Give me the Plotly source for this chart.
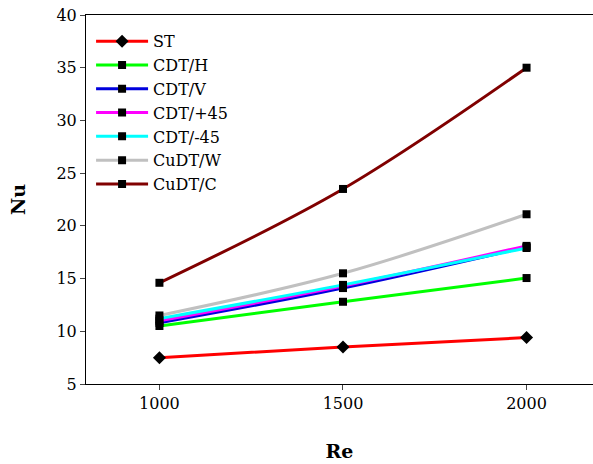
import plotly.graph_objects as go

re_vals = [1000, 1500, 2000]
series_names = ["ST", "CDT/H", "CDT/V", "CDT/+45", "CDT/-45", "CuDT/W", "CuDT/C"]
st = [7.5, 8.5, 9.4]
cdt_h = [10.5, 12.8, 15.05]
cdt_v = [10.8, 14.1, 18.0]
cdt_p45 = [11.0, 14.3, 18.1]
cdt_m45 = [11.2, 14.4, 17.9]
cudt_w = [11.5, 15.5, 21.1]
cudt_c = [14.6, 23.5, 35.0]
colors = ["#ff0000", "#00ff00", "#0000dd", "#ff00ff", "#00ffff", "#c0c0c0", "#800000"]
symbols = ["diamond", "square", "square", "square", "square", "square", "square"]
values = [st, cdt_h, cdt_v, cdt_p45, cdt_m45, cudt_w, cudt_c]

font = "DejaVu Serif"
fig = go.Figure()
for name, vals, col, sym in zip(series_names, values, colors, symbols):
    fig.add_trace(go.Scatter(
        x=re_vals, y=vals, name=name, mode="lines+markers",
        line=dict(color=col, width=3, shape="spline", smoothing=1.0),
        marker=dict(symbol=sym, color="black", size=10 if sym == "diamond" else 8),
    ))

fig.update_layout(
    width=593, height=464,
    margin=dict(l=86, r=0, t=15, b=80),
    paper_bgcolor="white", plot_bgcolor="white",
    font=dict(family=font, size=16, color="black"),
    showlegend=True,
    legend=dict(x=0.01, y=0.975, xanchor="left", yanchor="top",
                bgcolor="rgba(0,0,0,0)", font=dict(family=font, size=16),
                itemwidth=52, tracegroupgap=0),
    xaxis=dict(range=[800, 2181], tickvals=re_vals, ticks="outside", ticklen=5,
               showgrid=False, zeroline=False, showline=True, linecolor="black",
               linewidth=1, mirror=True, automargin=False, ticklabeloverflow="allow",
               title=dict(text="<b>Re</b>", font=dict(family=font, size=19), standoff=32)),
    yaxis=dict(range=[5, 40], dtick=5, ticks="outside", ticklen=5,
               showgrid=False, zeroline=False, showline=True, linecolor="black",
               linewidth=1, automargin=False, ticklabeloverflow="allow",
               title=dict(text="<b>Nu</b>", font=dict(family=font, size=19), standoff=25)),
)
fig.write_html("out.html", config={"displayModeBar": False},
               post_script="document.body.style.margin='0';document.body.style.overflow='hidden';")
